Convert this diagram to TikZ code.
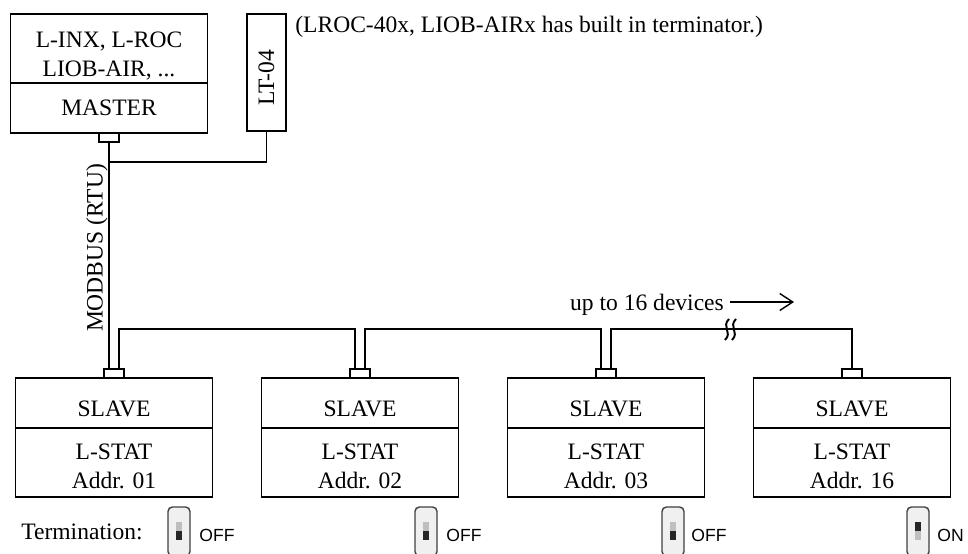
\documentclass[tikz,border=0pt]{standalone}
\usepackage{fontspec}
\setmainfont{Liberation Serif}
\newfontfamily\swfont{Liberation Sans}
\usepackage{tikz}
\usetikzlibrary{positioning,arrows.meta}

\tikzset{
    unitbox/.style={draw, line width=1pt, inner sep=0pt, outer sep=0pt, minimum width=3.94cm, align=center},
    headbox/.style={unitbox, minimum height=1cm},
    slavehead/.style={headbox, text height=0.54cm, text depth=0pt},
    bodybox/.style={unitbox, minimum height=1.38cm},
    port/.style={draw, line width=1pt, inner sep=0pt, outer sep=0pt, minimum width=0.4cm, minimum height=0.18cm},
    wire/.style={line width=1pt},
    swbody/.style={draw=black!75, fill=black!6, line width=0.8pt, rounded corners=2.5pt},
    swslot/.style={fill=black!25},
    swknob/.style={fill=black!85},
    swtext/.style={font=\swfont\fontsize{10}{12}\selectfont, anchor=west, inner sep=0pt},
}

\begin{document}
\begin{tikzpicture}[x=0.02cm, y=-0.02cm, font=\fontsize{13.4}{16.5}\selectfont]
    \useasboundingbox (0,0) rectangle (968,554);
    % master and terminator
    \node[bodybox] (mtop) at (109,48.5) {\rule{0pt}{0.6cm}L-INX, L-ROC\\LIOB-AIR, ...};
    \node[headbox, below=0pt of mtop] (master) {MASTER};
    \node[port, below=0pt of master] (mport) {};
    \node[unitbox, minimum width=0.78cm, minimum height=2.34cm, text height=1.33cm, text depth=0pt] (lt) at (266.5,72.5) {\rotatebox{90}{LT-04}};
    \node[anchor=base west, inner sep=0pt] (note) at (295,33) {(LROC-40x, LIOB-AIRx has built in terminator.)};
    % slaves
    \node[slavehead] (s1) at (114,403) {SLAVE};
    \node[bodybox, below=0pt of s1] (s1b) {\rule{0pt}{0.46cm}L-STAT\\Addr. 01};
    \node[port, above=0pt of s1] (p1) {};
    \node[slavehead] (s2) at (360,403) {SLAVE};
    \node[bodybox, below=0pt of s2] (s2b) {\rule{0pt}{0.46cm}L-STAT\\Addr. 02};
    \node[port, above=0pt of s2] (p2) {};
    \node[slavehead] (s3) at (606,403) {SLAVE};
    \node[bodybox, below=0pt of s3] (s3b) {\rule{0pt}{0.46cm}L-STAT\\Addr. 03};
    \node[port, above=0pt of s3] (p3) {};
    \node[slavehead] (s4) at (852,403) {SLAVE};
    \node[bodybox, below=0pt of s4] (s4b) {\rule{0pt}{0.46cm}L-STAT\\Addr. 16};
    \node[port, above=0pt of s4] (p4) {};
    % bus
    \coordinate (tee) at (109,162);
    \draw[wire] (mport.south) -- ([xshift=-0.1cm]p1.north);
    \draw[wire] (lt.south) |- (tee);
    \draw[wire] ([xshift=0.1cm]p1.north) -- ++(0,-40) -| ([xshift=-0.1cm]p2.north);
    \draw[wire] ([xshift=0.1cm]p2.north) -- ++(0,-40) -| ([xshift=-0.1cm]p3.north);
    \draw[wire] ([xshift=0.1cm]p3.north) -- ++(0,-40) -| (p4.north);
    \node[rotate=90] (bus) at (97,248) {MODBUS (RTU)};
    % break mark
    \draw[line width=1.1pt] (729,319) .. controls (721,327) and (733,332) .. (725,340);
    \draw[line width=1.1pt] (736,319) .. controls (728,327) and (740,332) .. (732,340);
    \node (devs) at (647,305) {up to 16 devices};
    \draw[line width=0.8pt, -{Straight Barb[length=2.6mm,width=3.4mm]}] ([yshift=0.06cm]devs.east) -- ++(64,0);
    % termination switches
    \node (term) at (82,532) {Termination:};
    \draw[swbody] (168,507) rectangle (190,556);
    \fill[swslot] (176,522) rectangle (182,540);
    \fill[swknob] (176,531) rectangle (182,540);
    \node[swtext] (off1) at (199,535) {OFF};
    \draw[swbody] (415,507) rectangle (437,556);
    \fill[swslot] (423,522) rectangle (429,540);
    \fill[swknob] (423,531) rectangle (429,540);
    \node[swtext] (off2) at (446,535) {OFF};
    \draw[swbody] (662,507) rectangle (684,556);
    \fill[swslot] (670,522) rectangle (676,540);
    \fill[swknob] (670,531) rectangle (676,540);
    \node[swtext] (off3) at (691,535) {OFF};
    \draw[swbody] (907,507) rectangle (929,556);
    \fill[swslot] (915,522) rectangle (921,540);
    \fill[swknob] (915,522) rectangle (921,531);
    \node[swtext] (on4) at (937,535) {ON};
\end{tikzpicture}
\end{document}
